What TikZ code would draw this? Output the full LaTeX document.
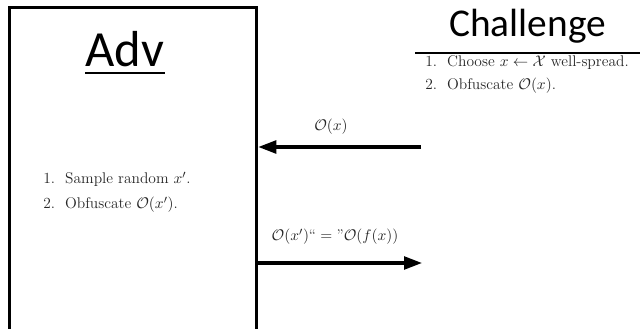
\documentclass[tikz,border=0pt]{standalone}
\usepackage{fontspec}
\usepackage{amsmath, amssymb}
\newfontfamily\slidefont{Carlito}
\usetikzlibrary{arrows.meta, positioning}

\begin{document}
\begin{tikzpicture}[
  party/.style={draw, line width=2.2pt, anchor=north west},
  headline/.style={font=\slidefont, inner sep=0pt, anchor=base},
  steps/.style={align=left, anchor=base west, inner sep=0pt, text=black!85},
  msg/.style={line width=2.2pt, -{Triangle[length=0.45cm, width=0.32cm]}},
  msglabel/.style={font=\fontsize{11}{13}\selectfont, text=black!85, inner sep=0pt}
]
  \useasboundingbox (0,0) rectangle (16,8.2);
  \clip (0,0) rectangle (16,8.2);

  % adversary side
  \node[party, minimum width=6.17cm, minimum height=9cm] (adv) at (0.21,8.04) {};
  \node[headline, font=\slidefont\fontsize{36}{40}\selectfont] (advtitle) at (3.125,6.525) {Adv};
  \draw[line width=1.8pt] ([yshift=-0.15cm]advtitle.base west) -- ([yshift=-0.15cm]advtitle.base east);
  \node[steps, font=\fontsize{11}{17.8}\selectfont] (advsteps) at (1.075,2.975) {
    1.\ \ Sample random $x'$.\\
    2.\ \ Obfuscate $\mathcal{O}(x')$.
  };

  % challenger side
  \node[headline, font=\slidefont\fontsize{28}{31}\selectfont] (chaltitle) at (13.19,7.275) {Challenge};
  \coordinate (rulestart) at (10.375,6.875);
  \draw[line width=1.1pt] (rulestart) -- (rulestart -| 16,0);
  \node[steps, font=\fontsize{11}{16.4}\selectfont] (chalsteps) at (10.625,5.96) {
    1.\ \ Choose $x \leftarrow \mathcal{X}$ well-spread.\\
    2.\ \ Obfuscate $\mathcal{O}(x)$.
  };

  % messages
  \coordinate (chalout) at (10.525,4.525);
  \draw[msg] (chalout) -- (chalout -| adv.east);
  \node[msglabel] (sendlabel) at (8.275,5.025) {$\mathcal{O}(x)$};

  \coordinate (advin) at (10.55,1.625);
  \draw[msg] (advin -| adv.east) -- (advin);
  \node[msglabel] (replylabel) at (8.375,2.275) {$\mathcal{O}(x')$``${}={}$''$\mathcal{O}(f(x))$};
\end{tikzpicture}
\end{document}
